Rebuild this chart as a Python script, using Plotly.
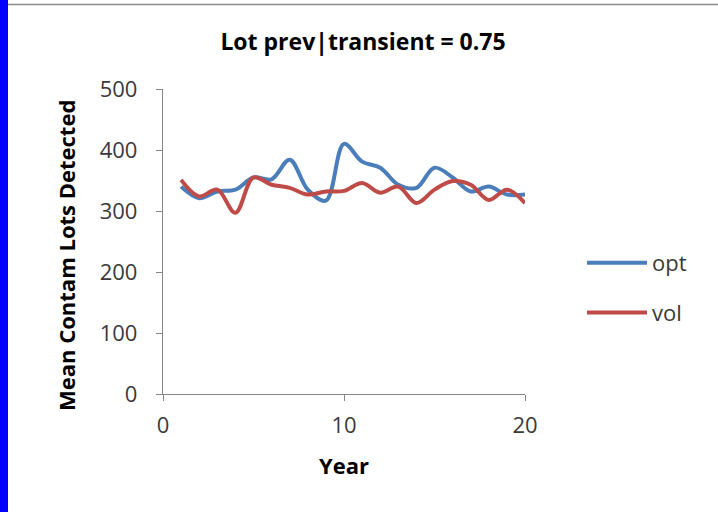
import plotly.graph_objects as go

years = list(range(1, 21))
opt = [340, 321, 332, 335, 355, 352, 384, 335, 317, 410, 381, 371, 343, 338, 371, 355, 332, 340, 327, 327]
vol = [351, 324, 335, 297, 355, 343, 338, 327, 332, 333, 346, 330, 340, 313, 335, 349, 343, 318, 335, 313]

W, H = 718, 512
L, R, T, B = 163, 193, 89, 118
pw, ph = W - L - R, H - T - B

def px(x):
    return (x - L) / pw

def py(y):
    return (H - B - y) / ph

fig = go.Figure()
fig.add_trace(go.Scatter(x=years, y=opt, name="opt", mode="lines",
                         line=dict(color="#4A7EBB", width=4, shape="spline"),
                         legendgroup="a"))
fig.add_trace(go.Scatter(x=years, y=vol, name="vol", mode="lines",
                         line=dict(color="#BE4B48", width=4, shape="spline"),
                         legendgroup="b"))

axis_col = "#868686"
font_fam = "'Open Sans', sans-serif"
tick_col = "#3a3a3a"

fig.update_layout(
    width=W, height=H,
    margin=dict(l=L, r=R, t=T, b=B, autoexpand=False),
    paper_bgcolor="white", plot_bgcolor="white",
    font=dict(family=font_fam, color=tick_col),
    title=dict(text="<b>Lot prev|transient = 0.75</b>", x=363 / W, xanchor="center",
               y=1 - 42 / H, yanchor="middle", font=dict(size=23, color="black")),
    xaxis=dict(range=[0, 20], tickvals=[0, 10, 20], showgrid=False, zeroline=False,
               showline=True, linecolor=axis_col, linewidth=1.3,
               ticks="outside", ticklen=6, tickcolor=axis_col, ticklabelstandoff=5,
               tickfont=dict(size=22, color=tick_col),
               title=dict(text="<b>Year</b>", font=dict(size=22, color="black"), standoff=21)),
    yaxis=dict(range=[0, 500], dtick=100, showgrid=False, zeroline=False,
               showline=True, linecolor=axis_col, linewidth=1.3,
               ticks="outside", ticklen=6, tickcolor=axis_col, ticklabelstandoff=14,
               tickfont=dict(size=22, color=tick_col)),
    annotations=[
        dict(text="<b>Mean Contam Lots Detected</b>", textangle=-90, showarrow=False,
             xref="paper", yref="paper", x=px(66), y=py(256), xanchor="center", yanchor="middle",
             font=dict(size=22, color="black")),
    ],
    showlegend=True,
    legend=dict(x=px(582), y=py(242), xanchor="left", yanchor="top",
                font=dict(size=22, color=tick_col), tracegroupgap=18, itemwidth=60,
                bgcolor="rgba(0,0,0,0)"),
    shapes=[
        dict(type="rect", xref="paper", yref="paper", x0=px(0), x1=px(8), y0=py(H), y1=py(0),
             fillcolor="#0000FF", line=dict(width=0), layer="above"),
        dict(type="line", xref="paper", yref="paper", x0=px(8), x1=px(W), y0=py(4.5), y1=py(4.5),
             line=dict(color="#8C8C8C", width=1.5)),
    ],
)

fig.write_html("out.html")
